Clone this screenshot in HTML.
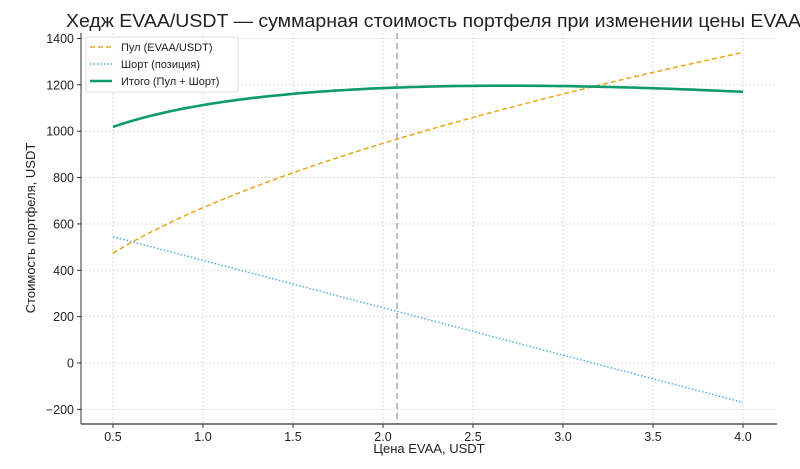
<!DOCTYPE html>
<html><head><meta charset="utf-8"><style>
body{margin:0;background:#fff;}
svg text{font-family:"Liberation Sans","DejaVu Sans",sans-serif;fill:#222;}
</style></head><body>
<svg id="s" width="800" height="464" xmlns="http://www.w3.org/2000/svg">
<rect width="800" height="464" fill="#fff"/>
<g id="grid" stroke="#d0d0d0" stroke-width="0.8" stroke-dasharray="2,2"></g>
<line x1="397" y1="33" x2="397" y2="424" stroke="#aaa" stroke-width="1.5" stroke-dasharray="6,4"/>
<path id="pool" fill="none" stroke="#e6a817" stroke-width="1.5" stroke-dasharray="5,3"/>
<path id="short" fill="none" stroke="#4fb3e0" stroke-width="1.5" stroke-dasharray="1.5,2"/>
<path id="tot" fill="none" stroke="#0f9a6e" stroke-width="2.6"/>
<line x1="81" y1="33" x2="81" y2="424" stroke="#555" stroke-width="1.2"/>
<line x1="81" y1="424" x2="777" y2="424" stroke="#333" stroke-width="1.2"/>
<g id="ticks" font-size="12.5"></g>
<text x="66" y="27" font-size="18.5" textLength="735" lengthAdjust="spacingAndGlyphs">Хедж EVAA/USDT — суммарная стоимость портфеля при изменении цены EVAA</text>
<text x="429" y="453" font-size="13" text-anchor="middle">Цена EVAA, USDT</text>
<text transform="translate(35,228) rotate(-90)" font-size="13" text-anchor="middle">Стоимость портфеля, USDT</text>
<rect x="86" y="37" width="152" height="55" fill="#fff" fill-opacity="0.85" stroke="#ddd" rx="2"/>
<line x1="90" y1="47" x2="112" y2="47" stroke="#e6a817" stroke-width="1.5" stroke-dasharray="5,3"/>
<line x1="90" y1="64" x2="112" y2="64" stroke="#4fb3e0" stroke-width="1.5" stroke-dasharray="1.5,2"/>
<line x1="90" y1="81" x2="112" y2="81" stroke="#0f9a6e" stroke-width="2.6"/>
<text x="121" y="51" font-size="11">Пул (EVAA/USDT)</text>
<text x="121" y="68" font-size="11">Шорт (позиция)</text>
<text x="121" y="85" font-size="11">Итого (Пул + Шорт)</text>
</svg>
<script>
var X=p=>113+(p-0.5)*180, Y=v=>363-v*0.2318;
var g=document.getElementById('grid'),t=document.getElementById('ticks'),ns='http://www.w3.org/2000/svg';
function el(par,n,a,txt){var e=document.createElementNS(ns,n);for(var k in a)e.setAttribute(k,a[k]);if(txt!=null)e.textContent=txt;par.appendChild(e);}
for(var i=0;i<8;i++){var p=0.5+i*0.5,x=X(p);el(g,'line',{x1:x,y1:33,x2:x,y2:424});el(t,'line',{x1:x,y1:424,x2:x,y2:428,stroke:'#333'});el(t,'text',{x:x,y:441,'text-anchor':'middle'},p.toFixed(1));}
for(var v=-200;v<=1400;v+=200){var y=Y(v);el(g,'line',{x1:81,y1:y,x2:777,y2:y});el(t,'line',{x1:77,y1:y,x2:81,y2:y,stroke:'#333'});el(t,'text',{x:74,y:y+4.5,'text-anchor':'end'},v<0?'\u2212'+(-v):v);}
var a='',b='',c='';
for(var k=0;k<=100;k++){var p=0.5+3.5*k/100,pl=670*Math.sqrt(p),sh=647-204.3*p,s=k?'L':'M';
a+=s+X(p).toFixed(1)+' '+Y(pl).toFixed(1);b+=s+X(p).toFixed(1)+' '+Y(sh).toFixed(1);c+=s+X(p).toFixed(1)+' '+Y(pl+sh).toFixed(1);}
document.getElementById('pool').setAttribute('d',a);document.getElementById('short').setAttribute('d',b);document.getElementById('tot').setAttribute('d',c);
</script>
</body></html>
